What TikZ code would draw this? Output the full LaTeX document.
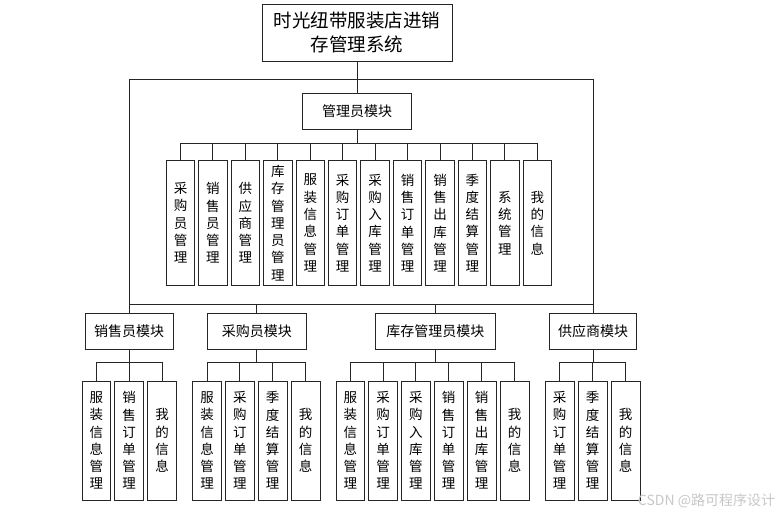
\documentclass[tikz,border=0pt]{standalone}
\usepackage{fontspec}
\setmainfont{Noto Sans CJK SC}
\begin{document}
\begin{tikzpicture}[x=1pt,y=-1pt,
  box/.style={draw=black!85, line width=0.9pt, inner sep=0pt, align=center, fill=white},
  titlebox/.style={box, minimum width=190, minimum height=57, font=\fontsize{18.5}{24}\selectfont},
  modbox/.style={box, minimum height=36.4, font=\fontsize{14}{16}\selectfont},
  leafA/.style={box, minimum width=28.4, minimum height=124.6, font=\fontsize{13.5}{17.3}\selectfont},
  leafB/.style={box, minimum width=28.7, minimum height=119, font=\fontsize{13.5}{17.2}\selectfont},
  link/.style={draw=black!85, line width=0.9pt}]
\useasboundingbox (0,0) rectangle (784,515);

\node[titlebox] (top) at (357,32.8) {时光纽带服装店进销\\存管理系统};
\node[modbox, minimum width=109] (admin) at (357,111.2) {管理员模块};

\foreach \t [count=\i] in {
  {采\\购\\员\\管\\理},{销\\售\\员\\管\\理},{供\\应\\商\\管\\理},{库\\存\\管\\理\\员\\管\\理},
  {服\\装\\信\\息\\管\\理},{采\\购\\订\\单\\管\\理},{采\\购\\入\\库\\管\\理},{销\\售\\订\\单\\管\\理},
  {销\\售\\出\\库\\管\\理},{季\\度\\结\\算\\管\\理},{系\\统\\管\\理},{我\\的\\信\\息}}{
  \node[leafA] (a\i) at (180.5+32.44*\i-32.44,223) {\t};
  \draw[link] (admin.south) -- ++(0,13.7) -| (a\i.north);
}

\node[modbox, minimum width=87.7] (sales) at (129.2,331.5) {销售员模块};
\node[modbox, minimum width=99] (purch) at (256.8,331.5) {采购员模块};
\node[modbox, minimum width=120.7] (stock) at (435.3,331.5) {库存管理员模块};
\node[modbox, minimum width=87.4] (supp) at (593,331.5) {供应商模块};

\draw[link] (top.south) -- (admin.north);
\draw[link] (top.south) -- ++(0,17.2) -| (sales.north);
\draw[link] (top.south) -- ++(0,17.2) -| (supp.north);
\draw[link] (sales.north) -- ++(0,-8.3) -| (supp.north);
\draw[link] (sales.north) -- ++(0,-8.3) -| (purch.north);
\draw[link] (supp.north) -- ++(0,-8.3) -| (stock.north);

% sales children
\node[leafB] (s1) at (96.3,440.5) {服\\装\\信\\息\\管\\理};
\node[leafB] (s2) at (129,440.5) {销\\售\\订\\单\\管\\理};
\node[leafB] (s3) at (162,440.5) {我\\的\\信\\息};
\foreach \n in {s1,s2,s3}{\draw[link] (sales.south) -- ++(0,12.6) -| (\n.north);}

% purchase children
\node[leafB] (p1) at (207,440.5) {服\\装\\信\\息\\管\\理};
\node[leafB] (p2) at (239.8,440.5) {采\\购\\订\\单\\管\\理};
\node[leafB] (p3) at (272.7,440.5) {季\\度\\结\\算\\管\\理};
\node[leafB] (p4) at (305.7,440.5) {我\\的\\信\\息};
\foreach \n in {p1,p2,p3,p4}{\draw[link] (purch.south) -- ++(0,12.6) -| (\n.north);}

% stock children
\node[leafB] (k1) at (350.3,440.5) {服\\装\\信\\息\\管\\理};
\node[leafB] (k2) at (383,440.5) {采\\购\\订\\单\\管\\理};
\node[leafB] (k3) at (415.8,440.5) {采\\购\\入\\库\\管\\理};
\node[leafB] (k4) at (448.7,440.5) {销\\售\\订\\单\\管\\理};
\node[leafB] (k5) at (481.7,440.5) {销\\售\\出\\库\\管\\理};
\node[leafB] (k6) at (514.7,440.5) {我\\的\\信\\息};
\foreach \n in {k1,k2,k3,k4,k5,k6}{\draw[link] (stock.south) -- ++(0,12.6) -| (\n.north);}

% supplier children
\node[leafB] (u1) at (559.7,440.5) {采\\购\\订\\单\\管\\理};
\node[leafB] (u2) at (592.7,440.5) {季\\度\\结\\算\\管\\理};
\node[leafB] (u3) at (625.7,440.5) {我\\的\\信\\息};
\foreach \n in {u1,u2,u3}{\draw[link] (supp.south) -- ++(0,12.6) -| (\n.north);}

\node[text=black!22, font=\fontsize{14}{16}\selectfont, inner sep=0pt] (wm) at (706.5,501) {CSDN @路可程序设计};
\end{tikzpicture}
\end{document}
